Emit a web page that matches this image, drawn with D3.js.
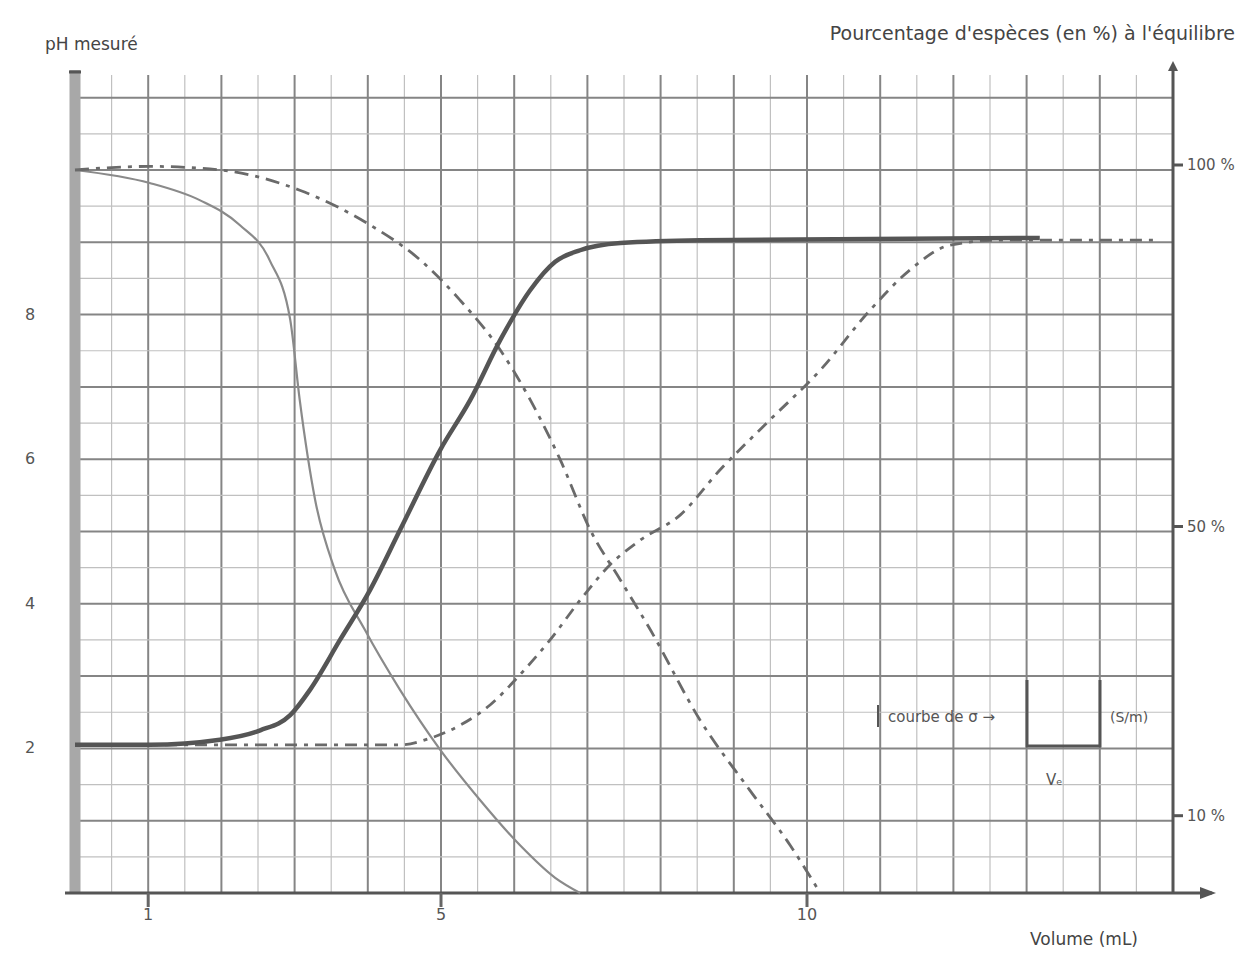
<!DOCTYPE html>
<html>
<head>
<meta charset="utf-8">
<script src="https://cdn.jsdelivr.net/npm/d3@7/dist/d3.min.js"></script>
<style>
  html, body { margin: 0; padding: 0; background: #fff; }
  svg { display: block; font-family: "DejaVu Sans", "Liberation Sans", sans-serif; }
</style>
</head>
<body>
<svg id="chart" width="1255" height="967"></svg>
<script>
// Volume added (mL) and pH of the titration curve
const phVolume = [0, 1.02, 1.98, 2.53, 2.94, 3.21, 3.62, 4.03, 4.44, 4.99, 5.40, 5.81, 6.22, 6.56, 6.90, 7.45, 8.54, 13.18];
const phValues = [2.05, 2.05, 2.12, 2.25, 2.46, 2.81, 3.50, 4.19, 5.02, 6.13, 6.82, 7.65, 8.34, 8.73, 8.89, 8.99, 9.03, 9.06];

// Second pH curve (slower rise)
const ph2Volume = [0, 2.0, 4.44, 4.85, 5.26, 5.67, 6.08, 6.49, 6.90, 7.31, 7.72, 8.27, 8.81, 9.49, 10.18, 10.86, 11.41, 11.95, 12.64, 14.82];
const ph2Values = [2.05, 2.05, 2.05, 2.14, 2.32, 2.60, 3.02, 3.50, 4.05, 4.54, 4.88, 5.23, 5.85, 6.54, 7.23, 8.06, 8.62, 8.96, 9.03, 9.03];

// Percentage of the acid species, first titration
const pctAVolume = [0, 1.02, 1.71, 2.25, 2.66, 2.94, 3.07, 3.28, 3.55, 3.96, 4.44, 4.99, 5.53, 6.08, 6.56, 6.90];
const pctAValues = [100, 98.2, 95.8, 92.4, 87.5, 79.3, 68.2, 54.4, 44.7, 36.4, 28.1, 19.8, 12.9, 6.6, 2.1, 0];

// Percentage of the acid species, second titration
const pctBVolume = [0, 1.02, 1.98, 3.07, 4.03, 4.71, 5.26, 5.81, 6.22, 6.63, 7.04, 7.45, 7.86, 8.54, 9.22, 9.77, 10.18];
const pctBValues = [100, 100.5, 100, 97.2, 92.4, 87.6, 82.0, 75.1, 68.2, 59.9, 50.2, 43.3, 36.4, 23.9, 14.2, 6.6, 0];

// Axis tick labels
const xTicks = [1, 5, 10];
const phTicks = [2, 4, 6, 8];
const pctTicks = [100, 50, 10];

const svg = d3.select("#chart");
const plotLeft = 75, plotRight = 1173, plotTop = 75, plotBottom = 893;

const x = d3.scaleLinear().domain([0, 15]).range([plotLeft, plotRight]);
const y = d3.scaleLinear().domain([0, 10]).range([plotBottom, plotBottom - 723]);
const yPct = d3.scaleLinear().domain([0, 100]).range([plotBottom, plotBottom - 723]);
const phTop = y.invert(plotTop);

// Grid: minor half-unit lines, then unit lines
const grid = svg.append("g");
for (let v = 0.5; v < 15; v += 0.5) {
  const major = Number.isInteger(v);
  grid.append("line")
    .attr("x1", x(v)).attr("x2", x(v)).attr("y1", plotTop).attr("y2", plotBottom)
    .attr("stroke", major ? "#858585" : "#c0c0c0")
    .attr("stroke-width", major ? 2 : 1.2);
}
for (let v = 0.5; v < phTop; v += 0.5) {
  const major = Number.isInteger(v);
  grid.append("line")
    .attr("x1", plotLeft).attr("x2", plotRight).attr("y1", y(v)).attr("y2", y(v))
    .attr("stroke", major ? "#858585" : "#c0c0c0")
    .attr("stroke-width", major ? 2 : 1.2);
}

// Axes
const axes = svg.append("g");
axes.append("line")
  .attr("x1", plotLeft).attr("x2", plotLeft).attr("y1", plotTop - 5).attr("y2", plotBottom)
  .attr("stroke", "#a8a8a8").attr("stroke-width", 11);
axes.append("line")
  .attr("x1", plotLeft - 6).attr("x2", plotLeft + 6).attr("y1", plotTop - 3).attr("y2", plotTop - 3)
  .attr("stroke", "#555").attr("stroke-width", 3);
axes.append("line")
  .attr("x1", plotRight).attr("x2", plotRight).attr("y1", plotTop - 8).attr("y2", plotBottom)
  .attr("stroke", "#555").attr("stroke-width", 3);
axes.append("line")
  .attr("x1", plotLeft - 10).attr("x2", 1212).attr("y1", plotBottom).attr("y2", plotBottom)
  .attr("stroke", "#555").attr("stroke-width", 3);
axes.append("path")
  .attr("d", `M1200,${plotBottom - 6} L1216,${plotBottom} L1200,${plotBottom + 6} Z`)
  .attr("fill", "#555");
axes.append("path")
  .attr("d", `M${plotRight - 5},${plotTop - 4} L${plotRight},${plotTop - 14} L${plotRight + 5},${plotTop - 4} Z`)
  .attr("fill", "#555");

// X ticks and labels
xTicks.forEach(t => {
  axes.append("line")
    .attr("x1", x(t)).attr("x2", x(t)).attr("y1", plotBottom).attr("y2", plotBottom + 14)
    .attr("stroke", "#666").attr("stroke-width", 3);
  axes.append("text")
    .attr("x", x(t)).attr("y", plotBottom + 27)
    .attr("text-anchor", "middle").attr("font-size", 16).attr("fill", "#555")
    .text(t);
});

// Left pH labels
phTicks.forEach(t => {
  axes.append("text")
    .attr("x", 30).attr("y", y(t) + 5)
    .attr("text-anchor", "middle").attr("font-size", 16).attr("fill", "#555")
    .text(t);
});

// Right percentage ticks and labels
pctTicks.forEach(t => {
  axes.append("line")
    .attr("x1", plotRight).attr("x2", plotRight + 10).attr("y1", yPct(t) - 5).attr("y2", yPct(t) - 5)
    .attr("stroke", "#555").attr("stroke-width", 3);
  axes.append("text")
    .attr("x", plotRight + 14).attr("y", yPct(t))
    .attr("font-size", 15).attr("fill", "#555")
    .text(t + " %");
});

// Axis titles
svg.append("text").attr("x", 45).attr("y", 50)
  .attr("font-size", 17).attr("fill", "#444").text("pH  mesuré");
svg.append("text").attr("x", 1235).attr("y", 40).attr("text-anchor", "end")
  .attr("font-size", 19).attr("fill", "#444").text("Pourcentage d'espèces (en %) à l'équilibre");
svg.append("text").attr("x", 1138).attr("y", 945).attr("text-anchor", "end")
  .attr("font-size", 17).attr("fill", "#444").text("Volume (mL)");

// Curves
const curves = svg.append("g").attr("fill", "none");
const linePh = d3.line().x(d => x(d[0])).y(d => y(d[1])).curve(d3.curveMonotoneX);
const linePct = d3.line().x(d => x(d[0])).y(d => yPct(d[1])).curve(d3.curveMonotoneX);

curves.append("path")
  .attr("d", linePct(d3.zip(pctAVolume, pctAValues)))
  .attr("stroke", "#8a8a8a").attr("stroke-width", 2.2);

curves.append("path")
  .attr("d", linePct(d3.zip(pctBVolume, pctBValues)))
  .attr("stroke", "#6a6a6a").attr("stroke-width", 2.8)
  .attr("stroke-dasharray", "14,7,4,7");

curves.append("path")
  .attr("d", linePh(d3.zip(ph2Volume, ph2Values)))
  .attr("stroke", "#6a6a6a").attr("stroke-width", 2.8)
  .attr("stroke-dasharray", "12,7,4,7");

curves.append("path")
  .attr("d", linePh(d3.zip(phVolume, phValues)))
  .attr("stroke", "#555").attr("stroke-width", 4.5);

// Key for the equivalence marker
const key = svg.append("g");
key.append("line").attr("x1", 878).attr("x2", 878).attr("y1", 705).attr("y2", 727).attr("stroke", "#555").attr("stroke-width", 2);
key.append("text").attr("x", 888).attr("y", 722).attr("font-size", 15).attr("fill", "#555").text("courbe de σ →");
key.append("path")
  .attr("d", "M1027,680 L1027,746 L1100,746 L1100,680")
  .attr("fill", "none").attr("stroke", "#555").attr("stroke-width", 3);
key.append("text").attr("x", 1110).attr("y", 722).attr("font-size", 14).attr("fill", "#555").text("(S/m)");
key.append("text").attr("x", 1046).attr("y", 785).attr("font-size", 15).attr("fill", "#555").text("Vₑ");
</script>
</body>
</html>
